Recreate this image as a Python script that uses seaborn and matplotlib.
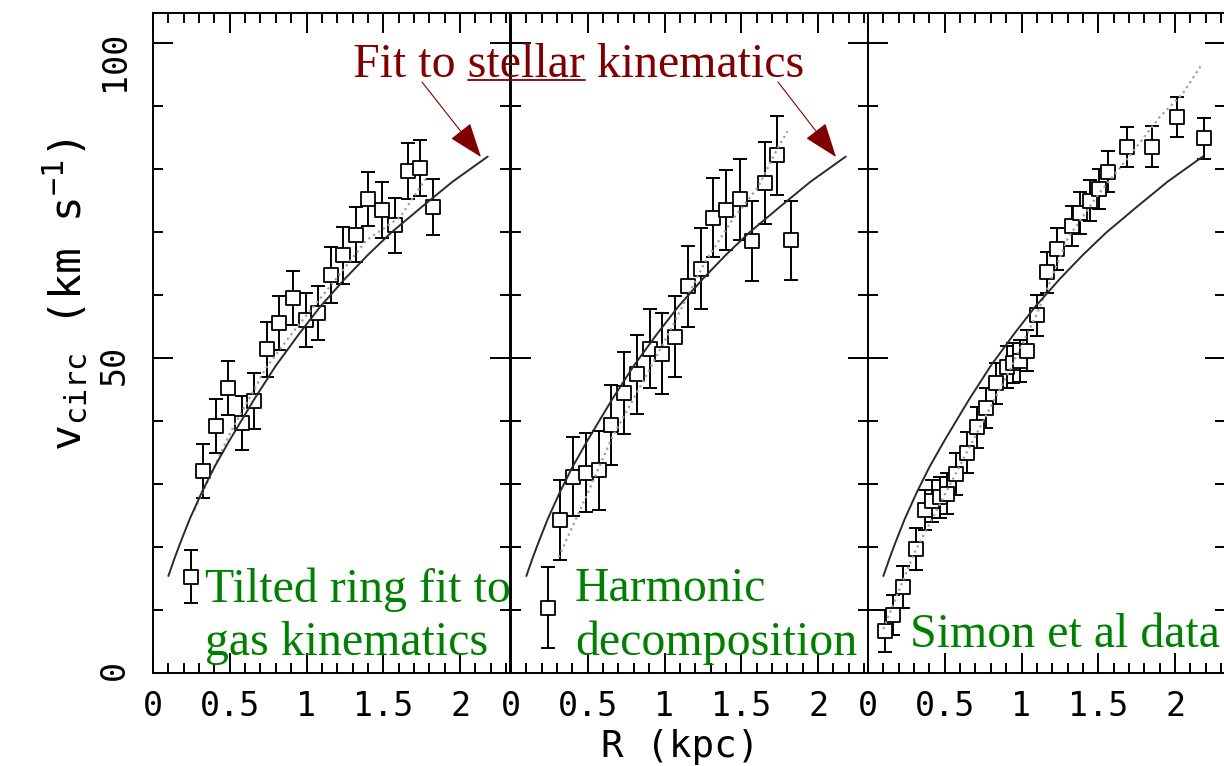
import matplotlib
matplotlib.use("Agg")
import matplotlib.pyplot as plt
import seaborn as sns
from matplotlib.ticker import MultipleLocator, FixedLocator
from matplotlib.patches import FancyArrowPatch
from matplotlib.lines import Line2D

# ---------------- data ----------------
# Panel 1: tilted ring fit to gas kinematics
p1_r = [0.247, 0.323, 0.410, 0.490, 0.577, 0.658, 0.744, 0.822, 0.909, 0.996,
        1.076, 1.159, 1.239, 1.322, 1.402, 1.489, 1.575, 1.658, 1.738, 1.825]
p1_v = [15.3, 32.1, 39.2, 45.2, 39.7, 43.2, 51.4, 55.6, 59.6, 56.0,
        57.1, 63.2, 66.3, 69.6, 75.2, 73.5, 71.1, 79.7, 80.2, 74.0]
p1_err = [4.2, 4.3, 4.3, 4.3, 4.3, 4.5, 4.4, 4.3, 4.3, 4.3,
          4.3, 4.4, 4.5, 4.4, 4.3, 4.5, 4.4, 4.4, 4.5, 4.5]

# Panel 2: harmonic decomposition
p2_r = [0.243, 0.319, 0.406, 0.488, 0.573, 0.651, 0.738, 0.818, 0.905, 0.985,
        1.068, 1.150, 1.235, 1.317, 1.400, 1.491, 1.567, 1.654, 1.734, 1.821]
p2_v = [10.4, 24.3, 31.2, 31.8, 32.2, 39.4, 44.4, 47.4, 51.5, 50.7,
        53.4, 61.4, 64.2, 72.3, 73.5, 75.2, 68.6, 77.8, 82.2, 68.7]
p2_err = [6.4, 6.3, 6.3, 6.3, 6.3, 6.4, 6.5, 6.3, 6.3, 6.4,
          6.4, 6.4, 6.4, 6.3, 6.4, 6.4, 6.3, 6.5, 6.3, 6.3]

# Panel 3: Simon et al data
p3_r = [0.111, 0.165, 0.230, 0.313, 0.371, 0.415, 0.469, 0.512, 0.573, 0.642,
        0.708, 0.768, 0.833, 0.903, 0.946, 0.990, 1.033, 1.098, 1.163, 1.228,
        1.326, 1.380, 1.445, 1.506, 1.565, 1.684, 1.847, 2.010, 2.190]
p3_v = [6.7, 9.2, 13.7, 19.7, 25.9, 27.3, 27.9, 28.5, 31.6, 35.0,
        39.0, 42.1, 46.0, 48.6, 49.2, 49.5, 51.2, 56.8, 63.6, 67.3,
        71.0, 73.0, 75.0, 76.8, 79.6, 83.5, 83.6, 88.3, 84.9]
p3_err = [3.3, 3.2, 3.3, 3.3, 3.2, 3.3, 3.3, 3.2, 3.3, 3.2,
          3.3, 3.2, 3.3, 3.3, 3.2, 3.3, 3.3, 3.3, 3.3, 3.3,
          3.2, 3.3, 3.3, 3.2, 3.3, 3.2, 3.3, 3.2, 3.3]

# Solid curve: fit to stellar kinematics (same in every panel)
fit_r = [0.10, 0.14, 0.18, 0.24, 0.32, 0.40, 0.50, 0.66, 0.80, 0.95, 1.09,
         1.25, 1.40, 1.55, 1.75, 1.95, 2.18]
fit_v = [15.4, 18.2, 20.8, 24.5, 28.8, 32.7, 37.0, 43.5, 48.8, 53.8, 58.2,
         62.6, 66.4, 69.9, 74.0, 78.0, 82.0]

# Dotted grey model curves, one per panel
d1_r = [0.27, 0.50, 0.74, 0.92, 1.15, 1.39, 1.61, 1.79]
d1_v = [25.9, 38.0, 48.6, 54.4, 61.3, 68.7, 72.4, 79.0]
d2_r = [0.31, 0.50, 0.66, 0.84, 1.05, 1.26, 1.44, 1.61, 1.74, 1.80]
d2_v = [18.4, 28.6, 37.5, 45.4, 55.0, 65.1, 71.9, 77.2, 83.5, 86.0]
d3_r = [0.10, 0.30, 0.60, 0.90, 1.10, 1.30, 1.50, 1.70, 1.90, 2.05, 2.17]
d3_v = [7.0, 19.0, 33.0, 47.0, 57.0, 69.0, 76.0, 82.0, 88.3, 92.0, 96.5]

x_ticks = [0, 0.5, 1, 1.5, 2]
x_tick_labels = ["0", "0.5", "1", "1.5", "2"]
y_ticks = [0, 50, 100]
y_tick_labels = ["0", "50", "100"]

panel_text = [["Tilted ring fit to", "gas kinematics"],
              ["Harmonic", "decomposition"],
              ["Simon et al data"]]
title_text = ["Fit to ", "stellar", " kinematics"]

# ---------------- style ----------------
W, H = 1224, 766
sns.set_theme(style="ticks")
plt.rcParams['font.family'] = ['DejaVu Sans Mono', 'DejaVu Sans']
plt.rcParams['mathtext.fontset'] = 'custom'
plt.rcParams['mathtext.rm'] = 'DejaVu Sans Mono'
plt.rcParams['mathtext.it'] = 'DejaVu Sans Mono'
plt.rcParams['axes.linewidth'] = 1.4

fig = plt.figure(figsize=(W / 100, H / 100), dpi=100)
fig.patch.set_facecolor('white')


def fx(x):
    return x / W


def fy(y):
    return 1 - y / H


panels = [(153, p1_r, p1_v, p1_err, d1_r, d1_v),
          (511, p2_r, p2_v, p2_err, d2_r, d2_v),
          (868, p3_r, p3_v, p3_err, d3_r, d3_v)]

for i, (xl, r, v, e, dr, dv) in enumerate(panels):
    ax = fig.add_axes([fx(xl), fy(673), 357 / W, 660 / H])
    ax.set_facecolor('white')
    ax.errorbar(r, v, yerr=e, fmt='none', ecolor='black', elinewidth=1.4,
                capsize=4.7, capthick=1.4, zorder=2)
    sns.scatterplot(x=r, y=v, marker='s', s=105, color='white',
                    edgecolor='black', linewidth=1.3, ax=ax, zorder=3, legend=False)
    sns.lineplot(x=dr, y=dv, color='#a0a0a0', linestyle=':', linewidth=1.6,
                 ax=ax, sort=False, estimator=None, zorder=4)
    sns.lineplot(x=fit_r, y=fit_v, color='#2a2a2a', linewidth=1.4,
                 ax=ax, sort=False, estimator=None, zorder=5)
    ax.set_xlim(0, 2.325)
    ax.set_ylim(0, 104.8)
    ax.set_xlabel("")
    ax.set_ylabel("")
    ax.xaxis.set_major_locator(FixedLocator(x_ticks))
    ax.set_xticklabels(x_tick_labels)
    ax.xaxis.set_minor_locator(MultipleLocator(0.1))
    ax.yaxis.set_major_locator(FixedLocator(y_ticks))
    ax.set_yticklabels(y_tick_labels)
    ax.yaxis.set_minor_locator(MultipleLocator(10))
    ax.tick_params(which='both', direction='in', top=True, right=True,
                   color='black', width=1.4)
    ax.tick_params(which='major', length=14.5)
    ax.tick_params(which='minor', length=7.5)
    ax.tick_params(axis='x', labelsize=24, pad=12, labelcolor='black')
    ax.tick_params(axis='y', labelsize=24, pad=16, labelrotation=90,
                   labelcolor='black')
    if i > 0:
        ax.tick_params(axis='y', labelleft=False)
    for sp in ax.spines.values():
        sp.set_color('black')
        sp.set_linewidth(1.4)

# axis labels
fig.text(fx(66), fy(295), r"v$_{\mathrm{circ}}$ (km s$^{-1}$)", rotation=90,
         ha='center', va='center', fontsize=31, color='black')
fig.text(fx(680), fy(765), "R (kpc)", ha='center', va='bottom', fontsize=27,
         color='black')

# red annotation with underlined word
serif = ['Liberation Serif', 'DejaVu Serif']
red = '#800000'
green = '#008000'
tx, ty = 353, 77
fig.text(fx(tx), fy(ty), "".join(title_text), ha='left', va='baseline',
         fontsize=34.5, color=red, family=serif)
renderer = fig.canvas.get_renderer()
tmp1 = fig.text(0, 0, title_text[0] + title_text[1], fontsize=34.5, family=serif)
tmp2 = fig.text(0, 0, title_text[1], fontsize=34.5, family=serif)
w12 = tmp1.get_window_extent(renderer).width
w2 = tmp2.get_window_extent(renderer).width
tmp1.remove()
tmp2.remove()
ux1 = tx + w12
ux0 = ux1 - w2
fig.add_artist(Line2D([fx(ux0), fx(ux1)], [fy(80), fy(80)], color=red,
                      linewidth=1.3, transform=fig.transFigure))

for (x0, y0, x1, y1) in [(422, 82, 481, 157), (778, 82, 836, 157)]:
    fig.add_artist(FancyArrowPatch((fx(x0), fy(y0)), (fx(x1), fy(y1)),
                                   transform=fig.transFigure,
                                   arrowstyle='-|>,head_length=22,head_width=8',
                                   mutation_scale=1, color=red, linewidth=0.8,
                                   shrinkA=0, shrinkB=0))

# green panel captions
caption_pos = [[(205, 602), (205, 655)], [(575, 601), (575, 655)], [(910, 647)]]
for lines, poss in zip(panel_text, caption_pos):
    for s, (x, y) in zip(lines, poss):
        fig.text(fx(x), fy(y), s, ha='left', va='baseline', fontsize=34.5,
                 color=green, family=serif)

fig.savefig("out.png", dpi=100, facecolor='white')
